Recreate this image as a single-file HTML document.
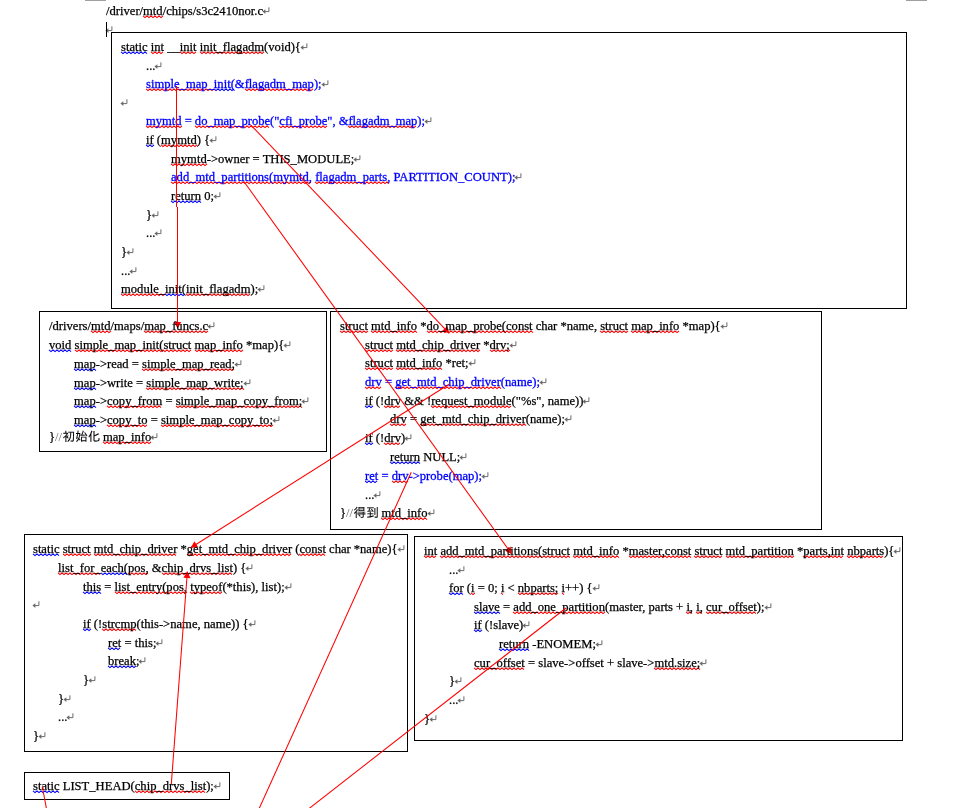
<!DOCTYPE html>
<html lang="zh"><head><meta charset="utf-8"><title>s3c2410nor.c</title>
<style>
html,body{margin:0;padding:0;background:#fff;overflow:hidden}
#pg{position:relative;width:968px;height:808px;overflow:hidden;background:#fff;font-family:"Liberation Serif", "IPAGothic", "Noto Serif CJK SC", serif;font-size:12.6px;line-height:18.63px;color:#000}
.bx{position:absolute;box-sizing:border-box;border:1px solid #000}
.ln{position:absolute;white-space:pre;height:18.63px;transform-origin:0 0;will-change:transform;-webkit-text-stroke:0.25px}
.pm{display:inline-block;width:7px;height:8px;vertical-align:baseline;margin-left:-1px}
.pm svg{display:block;overflow:visible}
.sl{color:#666;-webkit-text-stroke-width:0}
.cj{position:relative;top:0px;left:0.5px;-webkit-text-stroke-width:0.1px}
svg.ov{position:absolute;left:0;top:0;pointer-events:none}
</style></head><body><div id="pg">
<div style="position:absolute;left:85px;top:0;width:21px;height:1px;background:#a0a0a0"></div>
<div style="position:absolute;left:906px;top:0;width:21px;height:1px;background:#a0a0a0"></div>
<div class="bx" style="left:111px;top:32px;width:796px;height:277px"></div>
<div class="bx" style="left:39px;top:311px;width:288px;height:141px"></div>
<div class="bx" style="left:330px;top:311px;width:492px;height:219px"></div>
<div class="bx" style="left:24px;top:534px;width:384px;height:218px"></div>
<div class="bx" style="left:414px;top:536px;width:489px;height:205px"></div>
<div class="bx" style="left:24px;top:772px;width:206px;height:28px"></div>
<svg class="ov" width="968" height="808" viewBox="0 0 968 808">
<path d="M143 15.9 L145 17.6 L147 15.9 L149 17.6 L151 15.9 L153 17.6 L155 15.9 L157 17.6 L159 15.9 L161 17.6 L163 15.9 M151 51.9 L153 53.6 L155 51.9 L157 53.6 L159 51.9 L161 53.6 L163 51.9 M180 51.9 L182 53.6 L184 51.9 L186 53.6 L188 51.9 L190 53.6 L192 51.9 L194 53.6 L196 51.9 M200 51.9 L202 53.6 L204 51.9 L206 53.6 L208 51.9 L210 53.6 L212 51.9 L214 53.6 L216 51.9 L218 53.6 L220 51.9 L222 53.6 L224 51.9 L226 53.6 L228 51.9 L230 53.6 L232 51.9 L234 53.6 L236 51.9 L238 53.6 L240 51.9 L242 53.6 L244 51.9 L246 53.6 L248 51.9 L250 53.6 L252 51.9 L254 53.6 L256 51.9 L258 53.6 L260 51.9 L262 53.6 L264 51.9 M146 88.9 L148 90.6 L150 88.9 L152 90.6 L154 88.9 L156 90.6 L158 88.9 L160 90.6 L162 88.9 L164 90.6 L166 88.9 L168 90.6 L170 88.9 L172 90.6 L174 88.9 L176 90.6 L178 88.9 L180 90.6 L182 88.9 L184 90.6 L186 88.9 L188 90.6 L190 88.9 L192 90.6 L194 88.9 L196 90.6 L198 88.9 L200 90.6 L202 88.9 L204 90.6 L206 88.9 L208 90.6 L210 88.9 L212 90.6 L214 88.9 M245 88.9 L247 90.6 L249 88.9 L251 90.6 L253 88.9 L255 90.6 L257 88.9 L259 90.6 L261 88.9 L263 90.6 L265 88.9 L267 90.6 L269 88.9 L271 90.6 L273 88.9 L275 90.6 L277 88.9 L279 90.6 L281 88.9 L283 90.6 L285 88.9 L287 90.6 L289 88.9 L291 90.6 L293 88.9 L295 90.6 L297 88.9 L299 90.6 L301 88.9 L303 90.6 L305 88.9 L307 90.6 L309 88.9 L311 90.6 L313 88.9 M146 125.9 L148 127.6 L150 125.9 L152 127.6 L154 125.9 L156 127.6 L158 125.9 L160 127.6 L162 125.9 L164 127.6 L166 125.9 L168 127.6 L170 125.9 L172 127.6 L174 125.9 L176 127.6 L178 125.9 L180 127.6 L182 125.9 M195 125.9 L197 127.6 L199 125.9 L201 127.6 L203 125.9 L205 127.6 L207 125.9 L209 127.6 L211 125.9 L213 127.6 L215 125.9 L217 127.6 L219 125.9 L221 127.6 L223 125.9 L225 127.6 L227 125.9 L229 127.6 L231 125.9 L233 127.6 L235 125.9 L237 127.6 L239 125.9 L241 127.6 L243 125.9 L245 127.6 L247 125.9 L249 127.6 L251 125.9 L253 127.6 L255 125.9 L257 127.6 L259 125.9 L261 127.6 L263 125.9 L265 127.6 L267 125.9 L269 127.6 M279 125.9 L281 127.6 L283 125.9 L285 127.6 L287 125.9 L289 127.6 L291 125.9 L293 127.6 L295 125.9 L297 127.6 L299 125.9 L301 127.6 L303 125.9 L305 127.6 L307 125.9 L309 127.6 L311 125.9 L313 127.6 L315 125.9 L317 127.6 L319 125.9 L321 127.6 L323 125.9 L325 127.6 L327 125.9 M348 125.9 L350 127.6 L352 125.9 L354 127.6 L356 125.9 L358 127.6 L360 125.9 L362 127.6 L364 125.9 L366 127.6 L368 125.9 L370 127.6 L372 125.9 L374 127.6 L376 125.9 L378 127.6 L380 125.9 L382 127.6 L384 125.9 L386 127.6 L388 125.9 L390 127.6 L392 125.9 L394 127.6 L396 125.9 L398 127.6 L400 125.9 L402 127.6 L404 125.9 L406 127.6 L408 125.9 L410 127.6 L412 125.9 L414 127.6 L416 125.9 M161 144.9 L163 146.6 L165 144.9 L167 146.6 L169 144.9 L171 146.6 L173 144.9 L175 146.6 L177 144.9 L179 146.6 L181 144.9 L183 146.6 L185 144.9 L187 146.6 L189 144.9 L191 146.6 L193 144.9 L195 146.6 L197 144.9 M171 163.9 L173 165.6 L175 163.9 L177 165.6 L179 163.9 L181 165.6 L183 163.9 L185 165.6 L187 163.9 L189 165.6 L191 163.9 L193 165.6 L195 163.9 L197 165.6 L199 163.9 L201 165.6 L203 163.9 L205 165.6 L207 163.9 M171 181.9 L173 183.6 L175 181.9 L177 183.6 L179 181.9 L181 183.6 L183 181.9 L185 183.6 L187 181.9 L189 183.6 L191 181.9 L193 183.6 L195 181.9 L197 183.6 L199 181.9 L201 183.6 L203 181.9 L205 183.6 L207 181.9 L209 183.6 L211 181.9 L213 183.6 L215 181.9 L217 183.6 L219 181.9 L221 183.6 L223 181.9 L225 183.6 L227 181.9 L229 183.6 L231 181.9 L233 183.6 L235 181.9 L237 183.6 L239 181.9 L241 183.6 L243 181.9 L245 183.6 L247 181.9 L249 183.6 L251 181.9 L253 183.6 L255 181.9 L257 183.6 L259 181.9 L261 183.6 L263 181.9 L265 183.6 L267 181.9 L269 183.6 L271 181.9 L273 183.6 L275 181.9 L277 183.6 L279 181.9 L281 183.6 L283 181.9 L285 183.6 L287 181.9 L289 183.6 L291 181.9 L293 183.6 L295 181.9 L297 183.6 L299 181.9 L301 183.6 L303 181.9 L305 183.6 L307 181.9 L309 183.6 L311 181.9 M315 181.9 L317 183.6 L319 181.9 L321 183.6 L323 181.9 L325 183.6 L327 181.9 L329 183.6 L331 181.9 L333 183.6 L335 181.9 L337 183.6 L339 181.9 L341 183.6 L343 181.9 L345 183.6 L347 181.9 L349 183.6 L351 181.9 L353 183.6 L355 181.9 L357 183.6 L359 181.9 L361 183.6 L363 181.9 L365 183.6 L367 181.9 L369 183.6 L371 181.9 L373 183.6 L375 181.9 L377 183.6 L379 181.9 L381 183.6 L383 181.9 L385 183.6 L387 181.9 L389 183.6 M121 293.9 L123 295.6 L125 293.9 L127 295.6 L129 293.9 L131 295.6 L133 293.9 L135 295.6 L137 293.9 L139 295.6 L141 293.9 L143 295.6 L145 293.9 L147 295.6 L149 293.9 L151 295.6 L153 293.9 L155 295.6 L157 293.9 L159 295.6 L161 293.9 L163 295.6 L165 293.9 M186 293.9 L188 295.6 L190 293.9 L192 295.6 L194 293.9 L196 295.6 L198 293.9 L200 295.6 L202 293.9 L204 295.6 L206 293.9 L208 295.6 L210 293.9 L212 295.6 L214 293.9 L216 295.6 L218 293.9 L220 295.6 L222 293.9 L224 295.6 L226 293.9 L228 295.6 L230 293.9 L232 295.6 L234 293.9 L236 295.6 L238 293.9 L240 295.6 L242 293.9 L244 295.6 L246 293.9 L248 295.6 L250 293.9 M91 330.9 L93 332.6 L95 330.9 L97 332.6 L99 330.9 L101 332.6 L103 330.9 L105 332.6 L107 330.9 L109 332.6 L111 330.9 M144 330.9 L146 332.6 L148 330.9 L150 332.6 L152 330.9 L154 332.6 L156 330.9 L158 332.6 L160 330.9 L162 332.6 L164 330.9 L166 332.6 L168 330.9 L170 332.6 L172 330.9 L174 332.6 L176 330.9 L178 332.6 L180 330.9 L182 332.6 L184 330.9 L186 332.6 L188 330.9 L190 332.6 L192 330.9 L194 332.6 L196 330.9 L198 332.6 L200 330.9 L202 332.6 L204 330.9 L206 332.6 L208 330.9 M75 349.9 L77 351.6 L79 349.9 L81 351.6 L83 349.9 L85 351.6 L87 349.9 L89 351.6 L91 349.9 L93 351.6 L95 349.9 L97 351.6 L99 349.9 L101 351.6 L103 349.9 L105 351.6 L107 349.9 L109 351.6 L111 349.9 L113 351.6 L115 349.9 L117 351.6 L119 349.9 L121 351.6 L123 349.9 L125 351.6 L127 349.9 L129 351.6 L131 349.9 L133 351.6 L135 349.9 L137 351.6 L139 349.9 L141 351.6 L143 349.9 L145 351.6 L147 349.9 L149 351.6 L151 349.9 L153 351.6 L155 349.9 L157 351.6 L159 349.9 L161 351.6 L163 349.9 L165 351.6 L167 349.9 L169 351.6 L171 349.9 L173 351.6 L175 349.9 L177 351.6 L179 349.9 L181 351.6 L183 349.9 L185 351.6 L187 349.9 L189 351.6 L191 349.9 M195 349.9 L197 351.6 L199 349.9 L201 351.6 L203 349.9 L205 351.6 L207 349.9 L209 351.6 L211 349.9 L213 351.6 L215 349.9 L217 351.6 L219 349.9 L221 351.6 L223 349.9 L225 351.6 L227 349.9 L229 351.6 L231 349.9 L233 351.6 L235 349.9 L237 351.6 L239 349.9 L241 351.6 L243 349.9 M142 368.9 L144 370.6 L146 368.9 L148 370.6 L150 368.9 L152 370.6 L154 368.9 L156 370.6 L158 368.9 L160 370.6 L162 368.9 L164 370.6 L166 368.9 L168 370.6 L170 368.9 L172 370.6 L174 368.9 L176 370.6 L178 368.9 L180 370.6 L182 368.9 L184 370.6 L186 368.9 L188 370.6 L190 368.9 L192 370.6 L194 368.9 L196 370.6 L198 368.9 L200 370.6 L202 368.9 L204 370.6 L206 368.9 L208 370.6 L210 368.9 L212 370.6 L214 368.9 L216 370.6 L218 368.9 L220 370.6 L222 368.9 L224 370.6 L226 368.9 L228 370.6 L230 368.9 L232 370.6 L234 368.9 M146 387.9 L148 389.6 L150 387.9 L152 389.6 L154 387.9 L156 389.6 L158 387.9 L160 389.6 L162 387.9 L164 389.6 L166 387.9 L168 389.6 L170 387.9 L172 389.6 L174 387.9 L176 389.6 L178 387.9 L180 389.6 L182 387.9 L184 389.6 L186 387.9 L188 389.6 L190 387.9 L192 389.6 L194 387.9 L196 389.6 L198 387.9 L200 389.6 L202 387.9 L204 389.6 L206 387.9 L208 389.6 L210 387.9 L212 389.6 L214 387.9 L216 389.6 L218 387.9 L220 389.6 L222 387.9 L224 389.6 L226 387.9 L228 389.6 L230 387.9 L232 389.6 L234 387.9 L236 389.6 L238 387.9 L240 389.6 L242 387.9 L244 389.6 M107 405.9 L109 407.6 L111 405.9 L113 407.6 L115 405.9 L117 407.6 L119 405.9 L121 407.6 L123 405.9 L125 407.6 L127 405.9 L129 407.6 L131 405.9 L133 407.6 L135 405.9 L137 407.6 L139 405.9 L141 407.6 L143 405.9 L145 407.6 L147 405.9 L149 407.6 L151 405.9 L153 407.6 L155 405.9 L157 407.6 L159 405.9 L161 407.6 M176 405.9 L178 407.6 L180 405.9 L182 407.6 L184 405.9 L186 407.6 L188 405.9 L190 407.6 L192 405.9 L194 407.6 L196 405.9 L198 407.6 L200 405.9 L202 407.6 L204 405.9 L206 407.6 L208 405.9 L210 407.6 L212 405.9 L214 407.6 L216 405.9 L218 407.6 L220 405.9 L222 407.6 L224 405.9 L226 407.6 L228 405.9 L230 407.6 L232 405.9 L234 407.6 L236 405.9 L238 407.6 L240 405.9 L242 407.6 L244 405.9 L246 407.6 L248 405.9 L250 407.6 L252 405.9 L254 407.6 L256 405.9 L258 407.6 L260 405.9 L262 407.6 L264 405.9 L266 407.6 L268 405.9 L270 407.6 L272 405.9 L274 407.6 L276 405.9 L278 407.6 L280 405.9 L282 407.6 L284 405.9 L286 407.6 L288 405.9 L290 407.6 L292 405.9 L294 407.6 L296 405.9 L298 407.6 L300 405.9 L302 407.6 M107 424.9 L109 426.6 L111 424.9 L113 426.6 L115 424.9 L117 426.6 L119 424.9 L121 426.6 L123 424.9 L125 426.6 L127 424.9 L129 426.6 L131 424.9 L133 426.6 L135 424.9 L137 426.6 L139 424.9 L141 426.6 L143 424.9 L145 426.6 L147 424.9 M161 424.9 L163 426.6 L165 424.9 L167 426.6 L169 424.9 L171 426.6 L173 424.9 L175 426.6 L177 424.9 L179 426.6 L181 424.9 L183 426.6 L185 424.9 L187 426.6 L189 424.9 L191 426.6 L193 424.9 L195 426.6 L197 424.9 L199 426.6 L201 424.9 L203 426.6 L205 424.9 L207 426.6 L209 424.9 L211 426.6 L213 424.9 L215 426.6 L217 424.9 L219 426.6 L221 424.9 L223 426.6 L225 424.9 L227 426.6 L229 424.9 L231 426.6 L233 424.9 L235 426.6 L237 424.9 L239 426.6 L241 424.9 L243 426.6 L245 424.9 L247 426.6 L249 424.9 L251 426.6 L253 424.9 L255 426.6 L257 424.9 L259 426.6 L261 424.9 L263 426.6 L265 424.9 L267 426.6 L269 424.9 L271 426.6 L273 424.9 M103 441.9 L105 443.6 L107 441.9 L109 443.6 L111 441.9 L113 443.6 L115 441.9 L117 443.6 L119 441.9 L121 443.6 L123 441.9 L125 443.6 L127 441.9 L129 443.6 L131 441.9 L133 443.6 L135 441.9 L137 443.6 L139 441.9 L141 443.6 L143 441.9 L145 443.6 L147 441.9 L149 443.6 L151 441.9 M340 330.9 L342 332.6 L344 330.9 L346 332.6 L348 330.9 L350 332.6 L352 330.9 L354 332.6 L356 330.9 L358 332.6 L360 330.9 L362 332.6 L364 330.9 L366 332.6 L368 330.9 M371 330.9 L373 332.6 L375 330.9 L377 332.6 L379 330.9 L381 332.6 L383 330.9 L385 332.6 L387 330.9 L389 332.6 L391 330.9 L393 332.6 L395 330.9 L397 332.6 L399 330.9 L401 332.6 L403 330.9 L405 332.6 L407 330.9 L409 332.6 L411 330.9 L413 332.6 L415 330.9 L417 332.6 M427 330.9 L429 332.6 L431 330.9 L433 332.6 L435 330.9 L437 332.6 L439 330.9 L441 332.6 L443 330.9 L445 332.6 L447 330.9 L449 332.6 L451 330.9 L453 332.6 L455 330.9 L457 332.6 L459 330.9 L461 332.6 L463 330.9 L465 332.6 L467 330.9 L469 332.6 L471 330.9 L473 332.6 L475 330.9 L477 332.6 L479 330.9 L481 332.6 L483 330.9 L485 332.6 L487 330.9 L489 332.6 L491 330.9 L493 332.6 L495 330.9 L497 332.6 L499 330.9 L501 332.6 L503 330.9 L505 332.6 L507 330.9 L509 332.6 L511 330.9 L513 332.6 L515 330.9 L517 332.6 L519 330.9 L521 332.6 L523 330.9 L525 332.6 L527 330.9 L529 332.6 L531 330.9 L533 332.6 M600 330.9 L602 332.6 L604 330.9 L606 332.6 L608 330.9 L610 332.6 L612 330.9 L614 332.6 L616 330.9 L618 332.6 L620 330.9 L622 332.6 L624 330.9 L626 332.6 L628 330.9 M631 330.9 L633 332.6 L635 330.9 L637 332.6 L639 330.9 L641 332.6 L643 330.9 L645 332.6 L647 330.9 L649 332.6 L651 330.9 L653 332.6 L655 330.9 L657 332.6 L659 330.9 L661 332.6 L663 330.9 L665 332.6 L667 330.9 L669 332.6 L671 330.9 L673 332.6 L675 330.9 L677 332.6 L679 330.9 M365 349.9 L367 351.6 L369 349.9 L371 351.6 L373 349.9 L375 351.6 L377 349.9 L379 351.6 L381 349.9 L383 351.6 L385 349.9 L387 351.6 L389 349.9 L391 351.6 L393 349.9 M396 349.9 L398 351.6 L400 349.9 L402 351.6 L404 349.9 L406 351.6 L408 349.9 L410 351.6 L412 349.9 L414 351.6 L416 349.9 L418 351.6 L420 349.9 L422 351.6 L424 349.9 L426 351.6 L428 349.9 L430 351.6 L432 349.9 L434 351.6 L436 349.9 L438 351.6 L440 349.9 L442 351.6 L444 349.9 L446 351.6 L448 349.9 L450 351.6 L452 349.9 L454 351.6 L456 349.9 L458 351.6 L460 349.9 L462 351.6 L464 349.9 L466 351.6 L468 349.9 L470 351.6 L472 349.9 L474 351.6 L476 349.9 L478 351.6 L480 349.9 M490 349.9 L492 351.6 L494 349.9 L496 351.6 L498 349.9 L500 351.6 L502 349.9 L504 351.6 L506 349.9 L508 351.6 L510 349.9 M365 367.9 L367 369.6 L369 367.9 L371 369.6 L373 367.9 L375 369.6 L377 367.9 L379 369.6 L381 367.9 L383 369.6 L385 367.9 L387 369.6 L389 367.9 L391 369.6 L393 367.9 M396 367.9 L398 369.6 L400 367.9 L402 369.6 L404 367.9 L406 369.6 L408 367.9 L410 369.6 L412 367.9 L414 369.6 L416 367.9 L418 369.6 L420 367.9 L422 369.6 L424 367.9 L426 369.6 L428 367.9 L430 369.6 L432 367.9 L434 369.6 L436 367.9 L438 369.6 L440 367.9 L442 369.6 M365 386.9 L367 388.6 L369 386.9 L371 388.6 L373 386.9 L375 388.6 L377 386.9 L379 388.6 L381 386.9 M395 386.9 L397 388.6 L399 386.9 L401 388.6 L403 386.9 L405 388.6 L407 386.9 L409 388.6 L411 386.9 L413 388.6 L415 386.9 L417 388.6 L419 386.9 L421 388.6 L423 386.9 L425 388.6 L427 386.9 L429 388.6 L431 386.9 L433 388.6 L435 386.9 L437 388.6 L439 386.9 L441 388.6 L443 386.9 L445 388.6 L447 386.9 L449 388.6 L451 386.9 L453 388.6 L455 386.9 L457 388.6 L459 386.9 L461 388.6 L463 386.9 L465 388.6 L467 386.9 L469 388.6 L471 386.9 L473 388.6 L475 386.9 L477 388.6 L479 386.9 L481 388.6 L483 386.9 L485 388.6 L487 386.9 L489 388.6 L491 386.9 L493 388.6 L495 386.9 L497 388.6 L499 386.9 L501 388.6 M384 405.9 L386 407.6 L388 405.9 L390 407.6 L392 405.9 L394 407.6 L396 405.9 L398 407.6 L400 405.9 M431 405.9 L433 407.6 L435 405.9 L437 407.6 L439 405.9 L441 407.6 L443 405.9 L445 407.6 L447 405.9 L449 407.6 L451 405.9 L453 407.6 L455 405.9 L457 407.6 L459 405.9 L461 407.6 L463 405.9 L465 407.6 L467 405.9 L469 407.6 L471 405.9 L473 407.6 L475 405.9 L477 407.6 L479 405.9 L481 407.6 L483 405.9 L485 407.6 L487 405.9 L489 407.6 L491 405.9 L493 407.6 L495 405.9 L497 407.6 L499 405.9 L501 407.6 L503 405.9 L505 407.6 L507 405.9 L509 407.6 L511 405.9 M390 423.9 L392 425.6 L394 423.9 L396 425.6 L398 423.9 L400 425.6 L402 423.9 L404 425.6 L406 423.9 M420 423.9 L422 425.6 L424 423.9 L426 425.6 L428 423.9 L430 425.6 L432 423.9 L434 425.6 L436 423.9 L438 425.6 L440 423.9 L442 425.6 L444 423.9 L446 425.6 L448 423.9 L450 425.6 L452 423.9 L454 425.6 L456 423.9 L458 425.6 L460 423.9 L462 425.6 L464 423.9 L466 425.6 L468 423.9 L470 425.6 L472 423.9 L474 425.6 L476 423.9 L478 425.6 L480 423.9 L482 425.6 L484 423.9 L486 425.6 L488 423.9 L490 425.6 L492 423.9 L494 425.6 L496 423.9 L498 425.6 L500 423.9 L502 425.6 L504 423.9 L506 425.6 L508 423.9 L510 425.6 L512 423.9 L514 425.6 L516 423.9 L518 425.6 L520 423.9 L522 425.6 L524 423.9 L526 425.6 M384 442.9 L386 444.6 L388 442.9 L390 444.6 L392 442.9 L394 444.6 L396 442.9 L398 444.6 L400 442.9 M392 480.9 L394 482.6 L396 480.9 L398 482.6 L400 480.9 L402 482.6 L404 480.9 L406 482.6 L408 480.9 M381 517.9 L383 519.6 L385 517.9 L387 519.6 L389 517.9 L391 519.6 L393 517.9 L395 519.6 L397 517.9 L399 519.6 L401 517.9 L403 519.6 L405 517.9 L407 519.6 L409 517.9 L411 519.6 L413 517.9 L415 519.6 L417 517.9 L419 519.6 L421 517.9 L423 519.6 L425 517.9 L427 519.6 M63 553.9 L65 555.6 L67 553.9 L69 555.6 L71 553.9 L73 555.6 L75 553.9 L77 555.6 L79 553.9 L81 555.6 L83 553.9 L85 555.6 L87 553.9 L89 555.6 L91 553.9 M94 553.9 L96 555.6 L98 553.9 L100 555.6 L102 553.9 L104 555.6 L106 553.9 L108 555.6 L110 553.9 L112 555.6 L114 553.9 L116 555.6 L118 553.9 L120 555.6 L122 553.9 L124 555.6 L126 553.9 L128 555.6 L130 553.9 L132 555.6 L134 553.9 L136 555.6 L138 553.9 L140 555.6 L142 553.9 L144 555.6 L146 553.9 L148 555.6 L150 553.9 L152 555.6 L154 553.9 L156 555.6 L158 553.9 L160 555.6 L162 553.9 L164 555.6 L166 553.9 L168 555.6 L170 553.9 L172 555.6 L174 553.9 L176 555.6 M187 553.9 L189 555.6 L191 553.9 L193 555.6 L195 553.9 L197 555.6 L199 553.9 L201 555.6 L203 553.9 L205 555.6 L207 553.9 L209 555.6 L211 553.9 L213 555.6 L215 553.9 L217 555.6 L219 553.9 L221 555.6 L223 553.9 L225 555.6 L227 553.9 L229 555.6 L231 553.9 L233 555.6 L235 553.9 L237 555.6 L239 553.9 L241 555.6 L243 553.9 L245 555.6 L247 553.9 L249 555.6 L251 553.9 L253 555.6 L255 553.9 L257 555.6 L259 553.9 L261 555.6 L263 553.9 L265 555.6 L267 553.9 L269 555.6 L271 553.9 L273 555.6 L275 553.9 L277 555.6 L279 553.9 L281 555.6 L283 553.9 L285 555.6 L287 553.9 L289 555.6 L291 553.9 M299 553.9 L301 555.6 L303 553.9 L305 555.6 L307 553.9 L309 555.6 L311 553.9 L313 555.6 L315 553.9 L317 555.6 L319 553.9 L321 555.6 L323 553.9 L325 555.6 M58 572.9 L60 574.6 L62 572.9 L64 574.6 L66 572.9 L68 574.6 L70 572.9 L72 574.6 L74 572.9 L76 574.6 L78 572.9 L80 574.6 L82 572.9 L84 574.6 L86 572.9 L88 574.6 L90 572.9 L92 574.6 L94 572.9 L96 574.6 L98 572.9 L100 574.6 M128 572.9 L130 574.6 L132 572.9 L134 574.6 L136 572.9 L138 574.6 L140 572.9 L142 574.6 L144 572.9 L146 574.6 L148 572.9 M162 572.9 L164 574.6 L166 572.9 L168 574.6 L170 572.9 L172 574.6 L174 572.9 L176 574.6 L178 572.9 L180 574.6 L182 572.9 L184 574.6 L186 572.9 L188 574.6 L190 572.9 L192 574.6 L194 572.9 L196 574.6 L198 572.9 L200 574.6 L202 572.9 L204 574.6 L206 572.9 L208 574.6 L210 572.9 L212 574.6 L214 572.9 L216 574.6 L218 572.9 L220 574.6 L222 572.9 L224 574.6 L226 572.9 L228 574.6 L230 572.9 L232 574.6 M115 591.9 L117 593.6 L119 591.9 L121 593.6 L123 591.9 L125 593.6 L127 591.9 L129 593.6 L131 591.9 L133 593.6 L135 591.9 L137 593.6 L139 591.9 L141 593.6 L143 591.9 L145 593.6 L147 591.9 L149 593.6 L151 591.9 L153 593.6 L155 591.9 L157 593.6 L159 591.9 L161 593.6 L163 591.9 L165 593.6 L167 591.9 L169 593.6 L171 591.9 L173 593.6 L175 591.9 L177 593.6 L179 591.9 L181 593.6 L183 591.9 L185 593.6 L187 591.9 M190 591.9 L192 593.6 L194 591.9 L196 593.6 L198 591.9 L200 593.6 L202 591.9 L204 593.6 L206 591.9 L208 593.6 L210 591.9 L212 593.6 L214 591.9 L216 593.6 L218 591.9 L220 593.6 L222 591.9 M102 628.9 L104 630.6 L106 628.9 L108 630.6 L110 628.9 L112 630.6 L114 628.9 L116 630.6 L118 628.9 L120 630.6 L122 628.9 L124 630.6 L126 628.9 L128 630.6 L130 628.9 L132 630.6 L134 628.9 L136 630.6 M424 555.9 L426 557.6 L428 555.9 L430 557.6 L432 555.9 L434 557.6 L436 555.9 M440 555.9 L442 557.6 L444 555.9 L446 557.6 L448 555.9 L450 557.6 L452 555.9 L454 557.6 L456 555.9 L458 557.6 L460 555.9 L462 557.6 L464 555.9 L466 557.6 L468 555.9 L470 557.6 L472 555.9 L474 557.6 L476 555.9 L478 557.6 L480 555.9 L482 557.6 L484 555.9 L486 557.6 L488 555.9 L490 557.6 L492 555.9 L494 557.6 L496 555.9 L498 557.6 L500 555.9 L502 557.6 L504 555.9 L506 557.6 L508 555.9 L510 557.6 L512 555.9 L514 557.6 L516 555.9 L518 557.6 L520 555.9 L522 557.6 L524 555.9 L526 557.6 L528 555.9 L530 557.6 L532 555.9 L534 557.6 L536 555.9 L538 557.6 L540 555.9 L542 557.6 L544 555.9 L546 557.6 L548 555.9 L550 557.6 L552 555.9 L554 557.6 L556 555.9 L558 557.6 L560 555.9 L562 557.6 L564 555.9 L566 557.6 L568 555.9 L570 557.6 M573 555.9 L575 557.6 L577 555.9 L579 557.6 L581 555.9 L583 557.6 L585 555.9 L587 557.6 L589 555.9 L591 557.6 L593 555.9 L595 557.6 L597 555.9 L599 557.6 L601 555.9 L603 557.6 L605 555.9 L607 557.6 L609 555.9 L611 557.6 L613 555.9 L615 557.6 L617 555.9 L619 557.6 M629 555.9 L631 557.6 L633 555.9 L635 557.6 L637 555.9 L639 557.6 L641 555.9 L643 557.6 L645 555.9 L647 557.6 L649 555.9 L651 557.6 L653 555.9 L655 557.6 L657 555.9 L659 557.6 L661 555.9 L663 557.6 L665 555.9 L667 557.6 L669 555.9 L671 557.6 L673 555.9 L675 557.6 L677 555.9 L679 557.6 L681 555.9 L683 557.6 L685 555.9 L687 557.6 L689 555.9 L691 557.6 M694 555.9 L696 557.6 L698 555.9 L700 557.6 L702 555.9 L704 557.6 L706 555.9 L708 557.6 L710 555.9 L712 557.6 L714 555.9 L716 557.6 L718 555.9 L720 557.6 L722 555.9 M726 555.9 L728 557.6 L730 555.9 L732 557.6 L734 555.9 L736 557.6 L738 555.9 L740 557.6 L742 555.9 L744 557.6 L746 555.9 L748 557.6 L750 555.9 L752 557.6 L754 555.9 L756 557.6 L758 555.9 L760 557.6 L762 555.9 L764 557.6 L766 555.9 L768 557.6 L770 555.9 L772 557.6 L774 555.9 L776 557.6 L778 555.9 L780 557.6 L782 555.9 L784 557.6 L786 555.9 L788 557.6 L790 555.9 L792 557.6 L794 555.9 M803 555.9 L805 557.6 L807 555.9 L809 557.6 L811 555.9 L813 557.6 L815 555.9 L817 557.6 L819 555.9 L821 557.6 L823 555.9 L825 557.6 L827 555.9 L829 557.6 L831 555.9 L833 557.6 L835 555.9 L837 557.6 L839 555.9 L841 557.6 L843 555.9 M847 555.9 L849 557.6 L851 555.9 L853 557.6 L855 555.9 L857 557.6 L859 555.9 L861 557.6 L863 555.9 L865 557.6 L867 555.9 L869 557.6 L871 555.9 L873 557.6 L875 555.9 L877 557.6 L879 555.9 L881 557.6 L883 555.9 M471 592.9 L473 594.6 L475 592.9 M501 592.9 L503 594.6 M518 592.9 L520 594.6 L522 592.9 L524 594.6 L526 592.9 L528 594.6 L530 592.9 L532 594.6 L534 592.9 L536 594.6 L538 592.9 L540 594.6 L542 592.9 L544 594.6 L546 592.9 L548 594.6 L550 592.9 L552 594.6 L554 592.9 L556 594.6 L558 592.9 M562 592.9 L564 594.6 M513 611.9 L515 613.6 L517 611.9 L519 613.6 L521 611.9 L523 613.6 L525 611.9 L527 613.6 L529 611.9 L531 613.6 L533 611.9 L535 613.6 L537 611.9 L539 613.6 L541 611.9 L543 613.6 L545 611.9 L547 613.6 L549 611.9 L551 613.6 L553 611.9 L555 613.6 L557 611.9 L559 613.6 L561 611.9 L563 613.6 L565 611.9 L567 613.6 L569 611.9 L571 613.6 L573 611.9 L575 613.6 L577 611.9 L579 613.6 L581 611.9 L583 613.6 L585 611.9 L587 613.6 L589 611.9 L591 613.6 L593 611.9 L595 613.6 L597 611.9 L599 613.6 L601 611.9 L603 613.6 L605 611.9 M686 611.9 L688 613.6 L690 611.9 L692 613.6 M696 611.9 L698 613.6 L700 611.9 L702 613.6 M706 611.9 L708 613.6 L710 611.9 L712 613.6 L714 611.9 L716 613.6 L718 611.9 L720 613.6 L722 611.9 L724 613.6 L726 611.9 L728 613.6 L730 611.9 L732 613.6 L734 611.9 L736 613.6 L738 611.9 L740 613.6 L742 611.9 L744 613.6 L746 611.9 L748 613.6 L750 611.9 L752 613.6 L754 611.9 L756 613.6 M474 667.9 L476 669.6 L478 667.9 L480 669.6 L482 667.9 L484 669.6 L486 667.9 L488 669.6 L490 667.9 L492 669.6 L494 667.9 L496 669.6 L498 667.9 L500 669.6 L502 667.9 L504 669.6 L506 667.9 L508 669.6 L510 667.9 L512 669.6 L514 667.9 L516 669.6 L518 667.9 L520 669.6 L522 667.9 L524 669.6 M654 667.9 L656 669.6 L658 667.9 L660 669.6 L662 667.9 L664 669.6 L666 667.9 L668 669.6 L670 667.9 L672 669.6 L674 667.9 L676 669.6 L678 667.9 L680 669.6 L682 667.9 L684 669.6 L686 667.9 L688 669.6 L690 667.9 L692 669.6 L694 667.9 L696 669.6 L698 667.9 L700 669.6 M135 790.9 L137 792.6 L139 790.9 L141 792.6 L143 790.9 L145 792.6 L147 790.9 L149 792.6 L151 790.9 L153 792.6 L155 790.9 L157 792.6 L159 790.9 L161 792.6 L163 790.9 L165 792.6 L167 790.9 L169 792.6 L171 790.9 L173 792.6 L175 790.9 L177 792.6 L179 790.9 L181 792.6 L183 790.9 L185 792.6 L187 790.9 L189 792.6 L191 790.9 L193 792.6 L195 790.9 L197 792.6 L199 790.9 L201 792.6 L203 790.9 L205 792.6" fill="none" stroke="#ff0000" stroke-width="1.05" stroke-linejoin="round"/>
<path d="M121 51.9 L123 53.6 L125 51.9 L127 53.6 L129 51.9 L131 53.6 L133 51.9 L135 53.6 L137 51.9 L139 53.6 L141 51.9 L143 53.6 L145 51.9 L147 53.6 M214 88.9 L216 90.6 L218 88.9 L220 90.6 L222 88.9 L224 90.6 L226 88.9 L228 90.6 L230 88.9 L232 90.6 L234 88.9 M146 144.9 L148 146.6 L150 144.9 L152 146.6 L154 144.9 M171 200.9 L173 202.6 L175 200.9 L177 202.6 L179 200.9 L181 202.6 L183 200.9 L185 202.6 L187 200.9 L189 202.6 L191 200.9 L193 202.6 L195 200.9 L197 202.6 L199 200.9 L201 202.6 M165 293.9 L167 295.6 L169 293.9 L171 295.6 L173 293.9 L175 295.6 L177 293.9 L179 295.6 L181 293.9 L183 295.6 L185 293.9 M49 349.9 L51 351.6 L53 349.9 L55 351.6 L57 349.9 L59 351.6 L61 349.9 L63 351.6 L65 349.9 L67 351.6 L69 349.9 L71 351.6 M74 368.9 L76 370.6 L78 368.9 L80 370.6 L82 368.9 L84 370.6 L86 368.9 L88 370.6 L90 368.9 L92 370.6 L94 368.9 L96 370.6 M74 387.9 L76 389.6 L78 387.9 L80 389.6 L82 387.9 L84 389.6 L86 387.9 L88 389.6 L90 387.9 L92 389.6 L94 387.9 L96 389.6 M74 405.9 L76 407.6 L78 405.9 L80 407.6 L82 405.9 L84 407.6 L86 405.9 L88 407.6 L90 405.9 L92 407.6 L94 405.9 L96 407.6 M74 424.9 L76 426.6 L78 424.9 L80 426.6 L82 424.9 L84 426.6 L86 424.9 L88 426.6 L90 424.9 L92 426.6 L94 424.9 L96 426.6 M365 405.9 L367 407.6 L369 405.9 L371 407.6 L373 405.9 M365 442.9 L367 444.6 L369 442.9 L371 444.6 L373 442.9 M390 461.9 L392 463.6 L394 461.9 L396 463.6 L398 461.9 L400 463.6 L402 461.9 L404 463.6 L406 461.9 L408 463.6 L410 461.9 L412 463.6 L414 461.9 L416 463.6 L418 461.9 L420 463.6 M365 480.9 L367 482.6 L369 480.9 L371 482.6 L373 480.9 L375 482.6 L377 480.9 M33 553.9 L35 555.6 L37 553.9 L39 555.6 L41 553.9 L43 555.6 L45 553.9 L47 555.6 L49 553.9 L51 555.6 L53 553.9 L55 555.6 L57 553.9 L59 555.6 M101 572.9 L103 574.6 L105 572.9 L107 574.6 L109 572.9 L111 574.6 L113 572.9 L115 574.6 L117 572.9 L119 574.6 L121 572.9 L123 574.6 L125 572.9 L127 574.6 M83 591.9 L85 593.6 L87 591.9 L89 593.6 L91 591.9 L93 593.6 L95 591.9 L97 593.6 L99 591.9 L101 593.6 M83 628.9 L85 630.6 L87 628.9 L89 630.6 L91 628.9 M108 647.9 L110 649.6 L112 647.9 L114 649.6 L116 647.9 L118 649.6 L120 647.9 M108 665.9 L110 667.6 L112 665.9 L114 667.6 L116 665.9 L118 667.6 L120 665.9 L122 667.6 L124 665.9 L126 667.6 L128 665.9 L130 667.6 L132 665.9 L134 667.6 L136 665.9 M449 592.9 L451 594.6 L453 592.9 L455 594.6 L457 592.9 L459 594.6 L461 592.9 L463 594.6 M474 611.9 L476 613.6 L478 611.9 L480 613.6 L482 611.9 L484 613.6 L486 611.9 L488 613.6 L490 611.9 L492 613.6 L494 611.9 L496 613.6 L498 611.9 L500 613.6 M474 629.9 L476 631.6 L478 629.9 L480 631.6 L482 629.9 M499 648.9 L501 650.6 L503 648.9 L505 650.6 L507 648.9 L509 650.6 L511 648.9 L513 650.6 L515 648.9 L517 650.6 L519 648.9 L521 650.6 L523 648.9 L525 650.6 L527 648.9 L529 650.6 M33 790.9 L35 792.6 L37 790.9 L39 792.6 L41 790.9 L43 792.6 L45 790.9 L47 792.6 L49 790.9 L51 792.6 L53 790.9 L55 792.6 L57 790.9 L59 792.6" fill="none" stroke="#0000ff" stroke-width="1.05" stroke-linejoin="round"/>
<g fill="#ff0000">
<polygon points="177.6,328.5 174.0,322.0 181.2,322.0"/>
<polygon points="449.2,333.3 442.1,331.1 447.3,326.1"/>
<polygon points="511.6,553.9 504.9,550.7 510.7,546.5"/>
<polygon points="190.8,547.7 194.4,541.2 198.2,547.3"/>
<polygon points="187.4,571.5 190.5,578.3 183.3,577.7"/>
</g></svg>
<div class="ln" style="left:106.00px;top:2.00px"><span class="tx">/driver/<span class="ur">mtd</span>/chips/s3c2410nor.c</span><span class="pm"><svg width="7" height="8" viewBox="0 0 7 8"><path d="M6.9 0.3V4.6H2" fill="none" stroke="#6a6a6a" stroke-width="1"/><path d="M0.4 4.6L3.4 2.3V6.9Z" fill="#6a6a6a"/></svg></span></div>
<div class="ln" style="left:106.00px;top:21.00px"><span class="tx"></span><span class="pm"><svg width="7" height="8" viewBox="0 0 7 8"><path d="M6.9 0.3V4.6H2" fill="none" stroke="#6a6a6a" stroke-width="1"/><path d="M0.4 4.6L3.4 2.3V6.9Z" fill="#6a6a6a"/></svg></span></div>
<div class="ln" style="left:121.00px;top:38.00px"><span class="tx"><span class="ub">static</span> <span class="ur">int</span> __<span class="ur">init</span> <span class="ur">init_flagadm</span>(void){</span><span class="pm"><svg width="7" height="8" viewBox="0 0 7 8"><path d="M6.9 0.3V4.6H2" fill="none" stroke="#6a6a6a" stroke-width="1"/><path d="M0.4 4.6L3.4 2.3V6.9Z" fill="#6a6a6a"/></svg></span></div>
<div class="ln" style="left:146.00px;top:57.00px"><span class="tx">...</span><span class="pm"><svg width="7" height="8" viewBox="0 0 7 8"><path d="M6.9 0.3V4.6H2" fill="none" stroke="#6a6a6a" stroke-width="1"/><path d="M0.4 4.6L3.4 2.3V6.9Z" fill="#6a6a6a"/></svg></span></div>
<div class="ln" style="left:146.00px;top:75.00px;color:#0000ff;-webkit-text-stroke-width:0.3px"><span class="tx"><span class="ur">simple_map_</span><span class="ub">init(</span>&amp;<span class="ur">flagadm_map</span>);</span><span class="pm"><svg width="7" height="8" viewBox="0 0 7 8"><path d="M6.9 0.3V4.6H2" fill="none" stroke="#6a6a6a" stroke-width="1"/><path d="M0.4 4.6L3.4 2.3V6.9Z" fill="#6a6a6a"/></svg></span></div>
<div class="ln" style="left:121.00px;top:94.00px"><span class="tx"></span><span class="pm"><svg width="7" height="8" viewBox="0 0 7 8"><path d="M6.9 0.3V4.6H2" fill="none" stroke="#6a6a6a" stroke-width="1"/><path d="M0.4 4.6L3.4 2.3V6.9Z" fill="#6a6a6a"/></svg></span></div>
<div class="ln" style="left:146.00px;top:112.00px;color:#0000ff;-webkit-text-stroke-width:0.3px;letter-spacing:-0.03px"><span class="tx"><span class="ur">mymtd</span> = <span class="ur">do_map_probe</span>("<span class="ur">cfi_probe</span>", &amp;<span class="ur">flagadm_map</span>);</span><span class="pm"><svg width="7" height="8" viewBox="0 0 7 8"><path d="M6.9 0.3V4.6H2" fill="none" stroke="#6a6a6a" stroke-width="1"/><path d="M0.4 4.6L3.4 2.3V6.9Z" fill="#6a6a6a"/></svg></span></div>
<div class="ln" style="left:146.00px;top:131.00px"><span class="tx"><span class="ub">if</span> (<span class="ur">mymtd</span>) {</span><span class="pm"><svg width="7" height="8" viewBox="0 0 7 8"><path d="M6.9 0.3V4.6H2" fill="none" stroke="#6a6a6a" stroke-width="1"/><path d="M0.4 4.6L3.4 2.3V6.9Z" fill="#6a6a6a"/></svg></span></div>
<div class="ln" style="left:171.00px;top:150.00px"><span class="tx"><span class="ur">mymtd</span>-&gt;owner = THIS_MODULE;</span><span class="pm"><svg width="7" height="8" viewBox="0 0 7 8"><path d="M6.9 0.3V4.6H2" fill="none" stroke="#6a6a6a" stroke-width="1"/><path d="M0.4 4.6L3.4 2.3V6.9Z" fill="#6a6a6a"/></svg></span></div>
<div class="ln" style="left:171.00px;top:168.00px;color:#0000ff;-webkit-text-stroke-width:0.3px"><span class="tx"><span class="ur">add_mtd_partitions(mymtd,</span> <span class="ur">flagadm_parts,</span> PARTITION_COUNT);</span><span class="pm"><svg width="7" height="8" viewBox="0 0 7 8"><path d="M6.9 0.3V4.6H2" fill="none" stroke="#6a6a6a" stroke-width="1"/><path d="M0.4 4.6L3.4 2.3V6.9Z" fill="#6a6a6a"/></svg></span></div>
<div class="ln" style="left:171.00px;top:187.00px"><span class="tx"><span class="ub">return</span> 0;</span><span class="pm"><svg width="7" height="8" viewBox="0 0 7 8"><path d="M6.9 0.3V4.6H2" fill="none" stroke="#6a6a6a" stroke-width="1"/><path d="M0.4 4.6L3.4 2.3V6.9Z" fill="#6a6a6a"/></svg></span></div>
<div class="ln" style="left:146.00px;top:206.00px"><span class="tx">}</span><span class="pm"><svg width="7" height="8" viewBox="0 0 7 8"><path d="M6.9 0.3V4.6H2" fill="none" stroke="#6a6a6a" stroke-width="1"/><path d="M0.4 4.6L3.4 2.3V6.9Z" fill="#6a6a6a"/></svg></span></div>
<div class="ln" style="left:146.00px;top:224.00px"><span class="tx">...</span><span class="pm"><svg width="7" height="8" viewBox="0 0 7 8"><path d="M6.9 0.3V4.6H2" fill="none" stroke="#6a6a6a" stroke-width="1"/><path d="M0.4 4.6L3.4 2.3V6.9Z" fill="#6a6a6a"/></svg></span></div>
<div class="ln" style="left:121.00px;top:243.00px"><span class="tx">}</span><span class="pm"><svg width="7" height="8" viewBox="0 0 7 8"><path d="M6.9 0.3V4.6H2" fill="none" stroke="#6a6a6a" stroke-width="1"/><path d="M0.4 4.6L3.4 2.3V6.9Z" fill="#6a6a6a"/></svg></span></div>
<div class="ln" style="left:121.00px;top:262.00px"><span class="tx">...</span><span class="pm"><svg width="7" height="8" viewBox="0 0 7 8"><path d="M6.9 0.3V4.6H2" fill="none" stroke="#6a6a6a" stroke-width="1"/><path d="M0.4 4.6L3.4 2.3V6.9Z" fill="#6a6a6a"/></svg></span></div>
<div class="ln" style="left:121.00px;top:280.00px"><span class="tx"><span class="ur">module_</span><span class="ub">init(</span><span class="ur">init_flagadm</span>);</span><span class="pm"><svg width="7" height="8" viewBox="0 0 7 8"><path d="M6.9 0.3V4.6H2" fill="none" stroke="#6a6a6a" stroke-width="1"/><path d="M0.4 4.6L3.4 2.3V6.9Z" fill="#6a6a6a"/></svg></span></div>
<div class="ln" style="left:49.00px;top:317.00px"><span class="tx">/drivers/<span class="ur">mtd</span>/maps/<span class="ur">map_funcs.c</span></span><span class="pm"><svg width="7" height="8" viewBox="0 0 7 8"><path d="M6.9 0.3V4.6H2" fill="none" stroke="#6a6a6a" stroke-width="1"/><path d="M0.4 4.6L3.4 2.3V6.9Z" fill="#6a6a6a"/></svg></span></div>
<div class="ln" style="left:49.00px;top:336.00px"><span class="tx"><span class="ub">void</span> <span class="ur">simple_map_init(struct</span> <span class="ur">map_info</span> *map){</span><span class="pm"><svg width="7" height="8" viewBox="0 0 7 8"><path d="M6.9 0.3V4.6H2" fill="none" stroke="#6a6a6a" stroke-width="1"/><path d="M0.4 4.6L3.4 2.3V6.9Z" fill="#6a6a6a"/></svg></span></div>
<div class="ln" style="left:74.00px;top:355.00px"><span class="tx"><span class="ub">map</span>-&gt;read = <span class="ur">simple_map_read;</span></span><span class="pm"><svg width="7" height="8" viewBox="0 0 7 8"><path d="M6.9 0.3V4.6H2" fill="none" stroke="#6a6a6a" stroke-width="1"/><path d="M0.4 4.6L3.4 2.3V6.9Z" fill="#6a6a6a"/></svg></span></div>
<div class="ln" style="left:74.00px;top:374.00px"><span class="tx"><span class="ub">map</span>-&gt;write = <span class="ur">simple_map_write;</span></span><span class="pm"><svg width="7" height="8" viewBox="0 0 7 8"><path d="M6.9 0.3V4.6H2" fill="none" stroke="#6a6a6a" stroke-width="1"/><path d="M0.4 4.6L3.4 2.3V6.9Z" fill="#6a6a6a"/></svg></span></div>
<div class="ln" style="left:74.00px;top:392.00px"><span class="tx"><span class="ub">map</span>-&gt;<span class="ur">copy_from</span> = <span class="ur">simple_map_copy_from;</span></span><span class="pm"><svg width="7" height="8" viewBox="0 0 7 8"><path d="M6.9 0.3V4.6H2" fill="none" stroke="#6a6a6a" stroke-width="1"/><path d="M0.4 4.6L3.4 2.3V6.9Z" fill="#6a6a6a"/></svg></span></div>
<div class="ln" style="left:74.00px;top:411.00px"><span class="tx"><span class="ub">map</span>-&gt;<span class="ur">copy_to</span> = <span class="ur">simple_map_copy_to;</span></span><span class="pm"><svg width="7" height="8" viewBox="0 0 7 8"><path d="M6.9 0.3V4.6H2" fill="none" stroke="#6a6a6a" stroke-width="1"/><path d="M0.4 4.6L3.4 2.3V6.9Z" fill="#6a6a6a"/></svg></span></div>
<div class="ln" style="left:49.00px;top:428.00px"><span class="tx">}<span class="sl">//</span><span class="cj">初始化</span> <span class="ur">map_info</span></span><span class="pm"><svg width="7" height="8" viewBox="0 0 7 8"><path d="M6.9 0.3V4.6H2" fill="none" stroke="#6a6a6a" stroke-width="1"/><path d="M0.4 4.6L3.4 2.3V6.9Z" fill="#6a6a6a"/></svg></span></div>
<div class="ln" style="left:340.00px;top:317.00px;letter-spacing:-0.016px"><span class="tx"><span class="ur">struct</span> <span class="ur">mtd_info</span> *<span class="ur">do_map_probe(const</span> char *name, <span class="ur">struct</span> <span class="ur">map_info</span> *map){</span><span class="pm"><svg width="7" height="8" viewBox="0 0 7 8"><path d="M6.9 0.3V4.6H2" fill="none" stroke="#6a6a6a" stroke-width="1"/><path d="M0.4 4.6L3.4 2.3V6.9Z" fill="#6a6a6a"/></svg></span></div>
<div class="ln" style="left:365.00px;top:336.00px"><span class="tx"><span class="ur">struct</span> <span class="ur">mtd_chip_driver</span> *<span class="ur">drv;</span></span><span class="pm"><svg width="7" height="8" viewBox="0 0 7 8"><path d="M6.9 0.3V4.6H2" fill="none" stroke="#6a6a6a" stroke-width="1"/><path d="M0.4 4.6L3.4 2.3V6.9Z" fill="#6a6a6a"/></svg></span></div>
<div class="ln" style="left:365.00px;top:354.00px"><span class="tx"><span class="ur">struct</span> <span class="ur">mtd_info</span> *ret;</span><span class="pm"><svg width="7" height="8" viewBox="0 0 7 8"><path d="M6.9 0.3V4.6H2" fill="none" stroke="#6a6a6a" stroke-width="1"/><path d="M0.4 4.6L3.4 2.3V6.9Z" fill="#6a6a6a"/></svg></span></div>
<div class="ln" style="left:365.00px;top:373.00px;color:#0000ff;-webkit-text-stroke-width:0.3px"><span class="tx"><span class="ur">drv</span> = <span class="ur">get_mtd_chip_driver</span>(name);</span><span class="pm"><svg width="7" height="8" viewBox="0 0 7 8"><path d="M6.9 0.3V4.6H2" fill="none" stroke="#6a6a6a" stroke-width="1"/><path d="M0.4 4.6L3.4 2.3V6.9Z" fill="#6a6a6a"/></svg></span></div>
<div class="ln" style="left:365.00px;top:392.00px"><span class="tx"><span class="ub">if</span> (!<span class="ur">drv</span> &amp;&amp; !<span class="ur">request_module</span>("%s", name))</span><span class="pm"><svg width="7" height="8" viewBox="0 0 7 8"><path d="M6.9 0.3V4.6H2" fill="none" stroke="#6a6a6a" stroke-width="1"/><path d="M0.4 4.6L3.4 2.3V6.9Z" fill="#6a6a6a"/></svg></span></div>
<div class="ln" style="left:390.00px;top:410.00px"><span class="tx"><span class="ur">drv</span> = <span class="ur">get_mtd_chip_driver</span>(name);</span><span class="pm"><svg width="7" height="8" viewBox="0 0 7 8"><path d="M6.9 0.3V4.6H2" fill="none" stroke="#6a6a6a" stroke-width="1"/><path d="M0.4 4.6L3.4 2.3V6.9Z" fill="#6a6a6a"/></svg></span></div>
<div class="ln" style="left:365.00px;top:429.00px"><span class="tx"><span class="ub">if</span> (!<span class="ur">drv</span>)</span><span class="pm"><svg width="7" height="8" viewBox="0 0 7 8"><path d="M6.9 0.3V4.6H2" fill="none" stroke="#6a6a6a" stroke-width="1"/><path d="M0.4 4.6L3.4 2.3V6.9Z" fill="#6a6a6a"/></svg></span></div>
<div class="ln" style="left:390.00px;top:448.00px"><span class="tx"><span class="ub">return</span> NULL;</span><span class="pm"><svg width="7" height="8" viewBox="0 0 7 8"><path d="M6.9 0.3V4.6H2" fill="none" stroke="#6a6a6a" stroke-width="1"/><path d="M0.4 4.6L3.4 2.3V6.9Z" fill="#6a6a6a"/></svg></span></div>
<div class="ln" style="left:365.00px;top:467.00px;color:#0000ff;-webkit-text-stroke-width:0.3px"><span class="tx"><span class="ub">ret</span> = <span class="ur">drv</span>-&gt;probe(map);</span><span class="pm"><svg width="7" height="8" viewBox="0 0 7 8"><path d="M6.9 0.3V4.6H2" fill="none" stroke="#6a6a6a" stroke-width="1"/><path d="M0.4 4.6L3.4 2.3V6.9Z" fill="#6a6a6a"/></svg></span></div>
<div class="ln" style="left:365.00px;top:486.00px"><span class="tx">...</span><span class="pm"><svg width="7" height="8" viewBox="0 0 7 8"><path d="M6.9 0.3V4.6H2" fill="none" stroke="#6a6a6a" stroke-width="1"/><path d="M0.4 4.6L3.4 2.3V6.9Z" fill="#6a6a6a"/></svg></span></div>
<div class="ln" style="left:340.00px;top:504.00px"><span class="tx">}<span class="sl">//</span><span class="cj">得到</span> <span class="ur">mtd_info</span></span><span class="pm"><svg width="7" height="8" viewBox="0 0 7 8"><path d="M6.9 0.3V4.6H2" fill="none" stroke="#6a6a6a" stroke-width="1"/><path d="M0.4 4.6L3.4 2.3V6.9Z" fill="#6a6a6a"/></svg></span></div>
<div class="ln" style="left:33.00px;top:540.00px;letter-spacing:-0.016px"><span class="tx"><span class="ub">static</span> <span class="ur">struct</span> <span class="ur">mtd_chip_driver</span> *<span class="ur">get_mtd_chip_driver</span> (<span class="ur">const</span> char *name){</span><span class="pm"><svg width="7" height="8" viewBox="0 0 7 8"><path d="M6.9 0.3V4.6H2" fill="none" stroke="#6a6a6a" stroke-width="1"/><path d="M0.4 4.6L3.4 2.3V6.9Z" fill="#6a6a6a"/></svg></span></div>
<div class="ln" style="left:58.00px;top:559.00px"><span class="tx"><span class="ur">list_for_</span><span class="ub">each(</span><span class="ur">pos,</span> &amp;<span class="ur">chip_drvs_list</span>) {</span><span class="pm"><svg width="7" height="8" viewBox="0 0 7 8"><path d="M6.9 0.3V4.6H2" fill="none" stroke="#6a6a6a" stroke-width="1"/><path d="M0.4 4.6L3.4 2.3V6.9Z" fill="#6a6a6a"/></svg></span></div>
<div class="ln" style="left:83.00px;top:578.00px"><span class="tx"><span class="ub">this</span> = <span class="ur">list_entry(pos,</span> <span class="ur">typeof</span>(*this), list);</span><span class="pm"><svg width="7" height="8" viewBox="0 0 7 8"><path d="M6.9 0.3V4.6H2" fill="none" stroke="#6a6a6a" stroke-width="1"/><path d="M0.4 4.6L3.4 2.3V6.9Z" fill="#6a6a6a"/></svg></span></div>
<div class="ln" style="left:33.00px;top:596.00px"><span class="tx"></span><span class="pm"><svg width="7" height="8" viewBox="0 0 7 8"><path d="M6.9 0.3V4.6H2" fill="none" stroke="#6a6a6a" stroke-width="1"/><path d="M0.4 4.6L3.4 2.3V6.9Z" fill="#6a6a6a"/></svg></span></div>
<div class="ln" style="left:83.00px;top:615.00px"><span class="tx"><span class="ub">if</span> (!<span class="ur">strcmp</span>(this-&gt;name, name)) {</span><span class="pm"><svg width="7" height="8" viewBox="0 0 7 8"><path d="M6.9 0.3V4.6H2" fill="none" stroke="#6a6a6a" stroke-width="1"/><path d="M0.4 4.6L3.4 2.3V6.9Z" fill="#6a6a6a"/></svg></span></div>
<div class="ln" style="left:108.00px;top:634.00px"><span class="tx"><span class="ub">ret</span> = this;</span><span class="pm"><svg width="7" height="8" viewBox="0 0 7 8"><path d="M6.9 0.3V4.6H2" fill="none" stroke="#6a6a6a" stroke-width="1"/><path d="M0.4 4.6L3.4 2.3V6.9Z" fill="#6a6a6a"/></svg></span></div>
<div class="ln" style="left:108.00px;top:652.00px"><span class="tx"><span class="ub">break</span>;</span><span class="pm"><svg width="7" height="8" viewBox="0 0 7 8"><path d="M6.9 0.3V4.6H2" fill="none" stroke="#6a6a6a" stroke-width="1"/><path d="M0.4 4.6L3.4 2.3V6.9Z" fill="#6a6a6a"/></svg></span></div>
<div class="ln" style="left:83.00px;top:671.00px"><span class="tx">}</span><span class="pm"><svg width="7" height="8" viewBox="0 0 7 8"><path d="M6.9 0.3V4.6H2" fill="none" stroke="#6a6a6a" stroke-width="1"/><path d="M0.4 4.6L3.4 2.3V6.9Z" fill="#6a6a6a"/></svg></span></div>
<div class="ln" style="left:58.00px;top:690.00px"><span class="tx">}</span><span class="pm"><svg width="7" height="8" viewBox="0 0 7 8"><path d="M6.9 0.3V4.6H2" fill="none" stroke="#6a6a6a" stroke-width="1"/><path d="M0.4 4.6L3.4 2.3V6.9Z" fill="#6a6a6a"/></svg></span></div>
<div class="ln" style="left:58.00px;top:708.00px"><span class="tx">...</span><span class="pm"><svg width="7" height="8" viewBox="0 0 7 8"><path d="M6.9 0.3V4.6H2" fill="none" stroke="#6a6a6a" stroke-width="1"/><path d="M0.4 4.6L3.4 2.3V6.9Z" fill="#6a6a6a"/></svg></span></div>
<div class="ln" style="left:33.00px;top:727.00px"><span class="tx">}</span><span class="pm"><svg width="7" height="8" viewBox="0 0 7 8"><path d="M6.9 0.3V4.6H2" fill="none" stroke="#6a6a6a" stroke-width="1"/><path d="M0.4 4.6L3.4 2.3V6.9Z" fill="#6a6a6a"/></svg></span></div>
<div class="ln" style="left:424.00px;top:542.00px;letter-spacing:-0.016px"><span class="tx"><span class="ur">int</span> <span class="ur">add_mtd_partitions(struct</span> <span class="ur">mtd_info</span> *<span class="ur">master,const</span> <span class="ur">struct</span> <span class="ur">mtd_partition</span> *<span class="ur">parts,int</span> <span class="ur">nbparts</span>){</span><span class="pm"><svg width="7" height="8" viewBox="0 0 7 8"><path d="M6.9 0.3V4.6H2" fill="none" stroke="#6a6a6a" stroke-width="1"/><path d="M0.4 4.6L3.4 2.3V6.9Z" fill="#6a6a6a"/></svg></span></div>
<div class="ln" style="left:449.00px;top:561.00px"><span class="tx">...</span><span class="pm"><svg width="7" height="8" viewBox="0 0 7 8"><path d="M6.9 0.3V4.6H2" fill="none" stroke="#6a6a6a" stroke-width="1"/><path d="M0.4 4.6L3.4 2.3V6.9Z" fill="#6a6a6a"/></svg></span></div>
<div class="ln" style="left:449.00px;top:579.00px"><span class="tx"><span class="ub">for</span> (<span class="ur">i</span> = 0; <span class="ur">i</span> &lt; <span class="ur">nbparts;</span> <span class="ur">i</span>++) {</span><span class="pm"><svg width="7" height="8" viewBox="0 0 7 8"><path d="M6.9 0.3V4.6H2" fill="none" stroke="#6a6a6a" stroke-width="1"/><path d="M0.4 4.6L3.4 2.3V6.9Z" fill="#6a6a6a"/></svg></span></div>
<div class="ln" style="left:474.00px;top:598.00px"><span class="tx"><span class="ub">slave</span> = <span class="ur">add_one_partition</span>(master, parts + <span class="ur">i,</span> <span class="ur">i,</span> <span class="ur">cur_offset</span>);</span><span class="pm"><svg width="7" height="8" viewBox="0 0 7 8"><path d="M6.9 0.3V4.6H2" fill="none" stroke="#6a6a6a" stroke-width="1"/><path d="M0.4 4.6L3.4 2.3V6.9Z" fill="#6a6a6a"/></svg></span></div>
<div class="ln" style="left:474.00px;top:616.00px"><span class="tx"><span class="ub">if</span> (!slave)</span><span class="pm"><svg width="7" height="8" viewBox="0 0 7 8"><path d="M6.9 0.3V4.6H2" fill="none" stroke="#6a6a6a" stroke-width="1"/><path d="M0.4 4.6L3.4 2.3V6.9Z" fill="#6a6a6a"/></svg></span></div>
<div class="ln" style="left:499.00px;top:635.00px"><span class="tx"><span class="ub">return</span> -ENOMEM;</span><span class="pm"><svg width="7" height="8" viewBox="0 0 7 8"><path d="M6.9 0.3V4.6H2" fill="none" stroke="#6a6a6a" stroke-width="1"/><path d="M0.4 4.6L3.4 2.3V6.9Z" fill="#6a6a6a"/></svg></span></div>
<div class="ln" style="left:474.00px;top:654.00px"><span class="tx"><span class="ur">cur_offset</span> = slave-&gt;offset + slave-&gt;<span class="ur">mtd.size;</span></span><span class="pm"><svg width="7" height="8" viewBox="0 0 7 8"><path d="M6.9 0.3V4.6H2" fill="none" stroke="#6a6a6a" stroke-width="1"/><path d="M0.4 4.6L3.4 2.3V6.9Z" fill="#6a6a6a"/></svg></span></div>
<div class="ln" style="left:449.00px;top:672.00px"><span class="tx">}</span><span class="pm"><svg width="7" height="8" viewBox="0 0 7 8"><path d="M6.9 0.3V4.6H2" fill="none" stroke="#6a6a6a" stroke-width="1"/><path d="M0.4 4.6L3.4 2.3V6.9Z" fill="#6a6a6a"/></svg></span></div>
<div class="ln" style="left:449.00px;top:691.00px"><span class="tx">...</span><span class="pm"><svg width="7" height="8" viewBox="0 0 7 8"><path d="M6.9 0.3V4.6H2" fill="none" stroke="#6a6a6a" stroke-width="1"/><path d="M0.4 4.6L3.4 2.3V6.9Z" fill="#6a6a6a"/></svg></span></div>
<div class="ln" style="left:424.00px;top:710.00px"><span class="tx">}</span><span class="pm"><svg width="7" height="8" viewBox="0 0 7 8"><path d="M6.9 0.3V4.6H2" fill="none" stroke="#6a6a6a" stroke-width="1"/><path d="M0.4 4.6L3.4 2.3V6.9Z" fill="#6a6a6a"/></svg></span></div>
<div class="ln" style="left:33.00px;top:777.00px"><span class="tx"><span class="ub">static</span> LIST_HEAD(<span class="ur">chip_drvs_list</span>);</span><span class="pm"><svg width="7" height="8" viewBox="0 0 7 8"><path d="M6.9 0.3V4.6H2" fill="none" stroke="#6a6a6a" stroke-width="1"/><path d="M0.4 4.6L3.4 2.3V6.9Z" fill="#6a6a6a"/></svg></span></div>
<svg class="ov" width="968" height="808" viewBox="0 0 968 808">
<g stroke="#ff0000" stroke-width="1.05" fill="none">
<path shape-rendering="crispEdges" stroke-width="1" d="M176.5 85.6V207M177.5 207V325.5"/>
<line x1="251" y1="125.2" x2="449.2" y2="333.3"/>
<line x1="243.9" y1="181.5" x2="511.6" y2="553.9"/>
<line x1="449.1" y1="384.3" x2="190.8" y2="547.7"/>
<line x1="411.3" y1="472.2" x2="258.5" y2="810"/>
<line x1="171.3" y1="784" x2="187.4" y2="571.5"/>
<line x1="566" y1="608" x2="307.2" y2="810"/>
<line x1="42.3" y1="786.3" x2="46.7" y2="810"/>
</g>
<rect x="106" y="22" width="1" height="15" fill="#000"/>
</svg>
</div></body></html>
